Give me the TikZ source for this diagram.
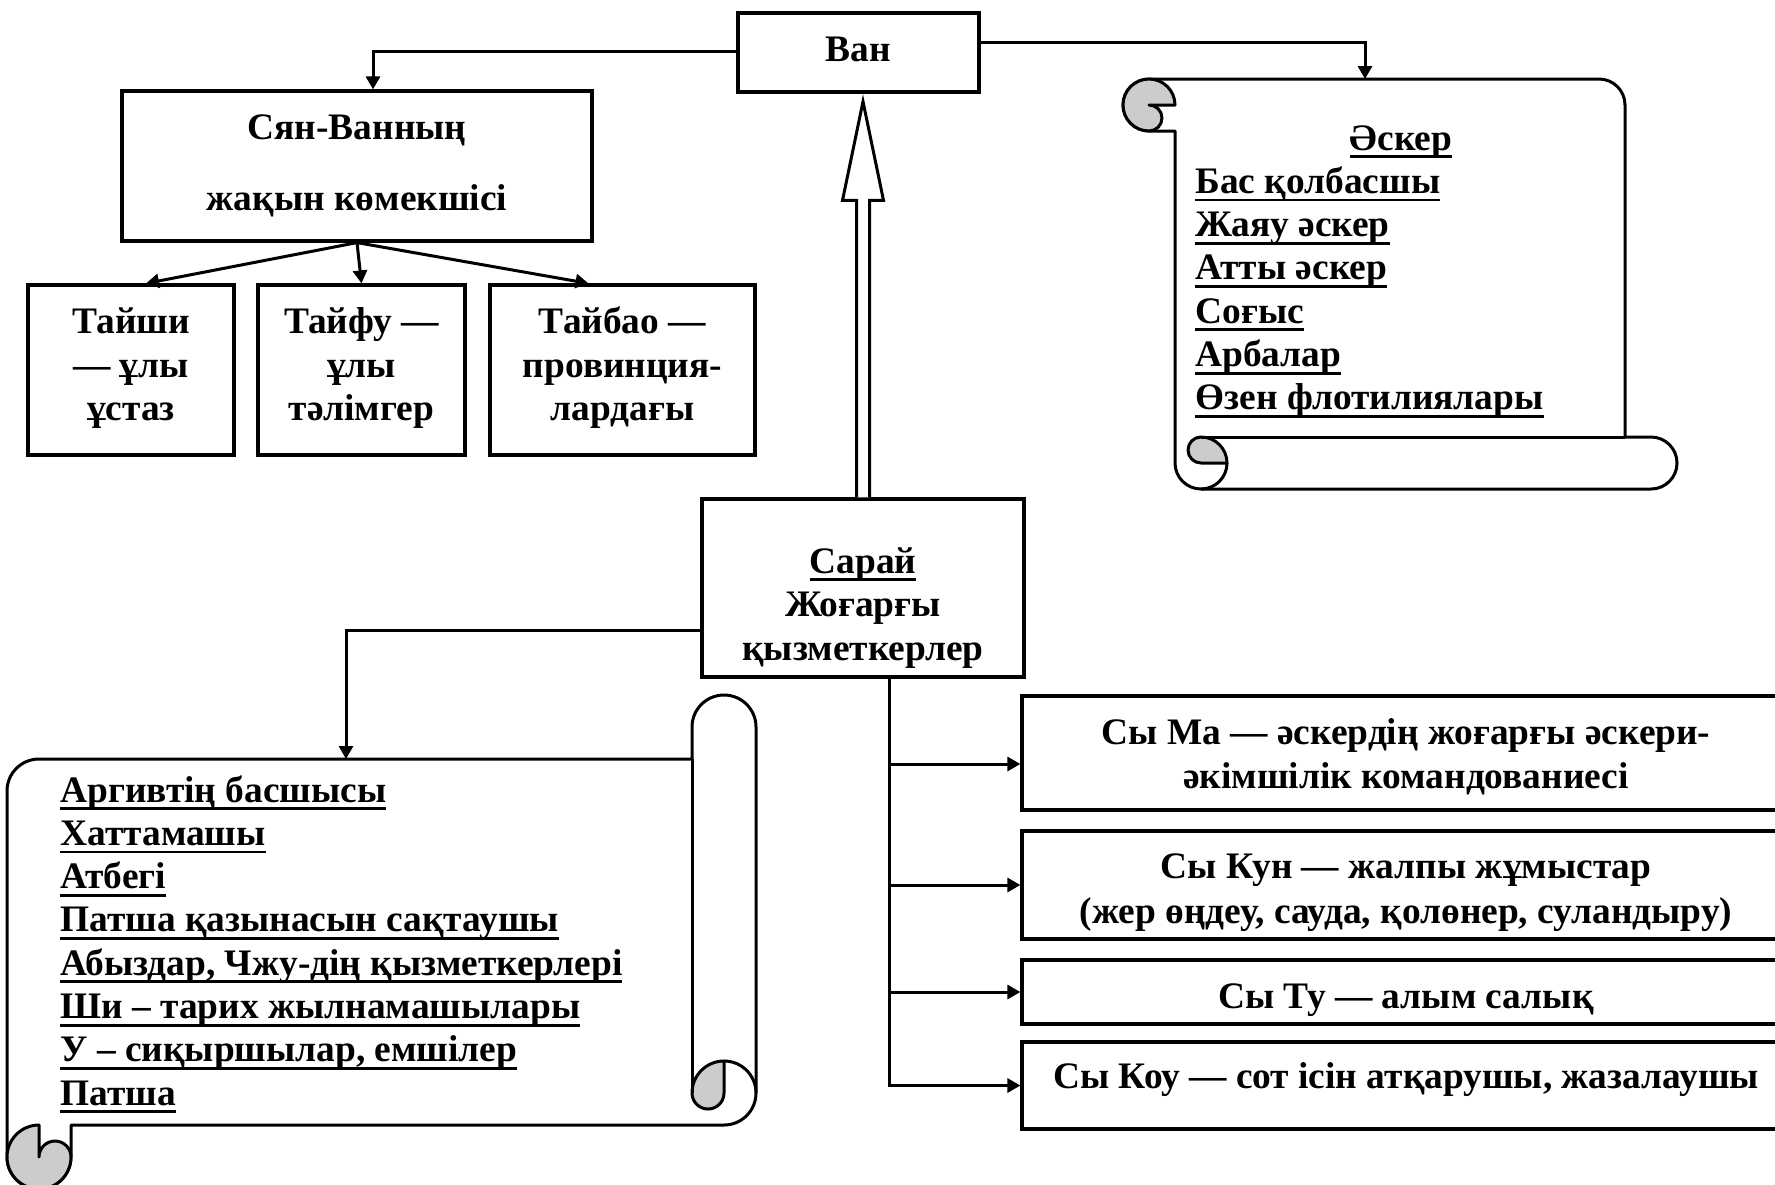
\documentclass[tikz,border=0pt]{standalone}
\usepackage{fontspec}
\setmainfont{Liberation Serif}
\usetikzlibrary{arrows.meta,calc}
\newcommand\uln[1]{\setbox0\hbox{#1}\rlap{\rule[-4pt]{\wd0}{1.4pt}}\box0}
\begin{document}
\begin{tikzpicture}[x=0.5pt,y=0.5pt,
  every node/.style={font=\fontsize{18.7pt}{22pt}\selectfont\bfseries},
  box/.style={draw,line width=1.6pt,inner sep=0pt},
  tx/.style={anchor=base,inner sep=0pt},
  ln/.style={line width=1.5pt},
  arr/.style={ln,-{Triangle[length=6.5pt,width=7pt]}},
  scr/.style={line width=1.5pt,fill=white,line join=round},
  curl/.style={line width=1.5pt,fill=black!20,line join=round},
  item/.style={anchor=base west,inner sep=0pt}]
\useasboundingbox (0,0) rectangle (1775,-1184);

% ---------- army scroll (top right) ----------
\draw[scr] (1149,-79) -- (1599,-79) arc[start angle=90,end angle=0,radius=26]
  -- (1625,-437) -- (1651,-437) arc[start angle=90,end angle=-90,radius=26]
  -- (1201,-489) arc[start angle=270,end angle=180,radius=26]
  -- (1175,-131) -- (1149,-131) arc[start angle=270,end angle=90,radius=26] -- cycle;
\draw[curl] (1175,-105) arc[start angle=0,end angle=270,radius=26]
  arc[start angle=270,end angle=450,radius=13] -- cycle;
\draw[curl] (1201,-463) arc[start angle=270,end angle=90,radius=13]
  arc[start angle=90,end angle=0,radius=26] -- cycle;
\draw[ln] (1227,-463) arc[start angle=0,end angle=-90,radius=26];
\draw[ln] (1201,-437) -- (1625,-437);
\coordinate (armytop) at (1365,-79);

% ---------- court scroll (bottom left) ----------
\draw[scr] (7,-1157) -- (7,-791) arc[start angle=180,end angle=90,radius=32]
  -- (692,-759) -- (692,-727) arc[start angle=180,end angle=0,radius=32]
  -- (756,-1093) arc[start angle=0,end angle=-90,radius=32]
  -- (71,-1125) -- (71,-1157) arc[start angle=0,end angle=-180,radius=32] -- cycle;
\draw[curl] (39,-1125) arc[start angle=90,end angle=360,radius=32]
  arc[start angle=0,end angle=180,radius=16] -- cycle;
\draw[curl] (724,-1093) arc[start angle=0,end angle=-180,radius=16]
  arc[start angle=180,end angle=90,radius=32] -- cycle;
\draw[ln] (724,-1061) arc[start angle=90,end angle=0,radius=32];
\draw[ln] (692,-759) -- (692,-1093);
\coordinate (listtop) at (346,-759);

% ---------- boxes ----------
\node[box,minimum width=120.5pt,minimum height=39.5pt] (van) at (858.5,-52.5) {};
\node[box,minimum width=235pt,minimum height=75pt] (syan) at (357,-166) {};
\node[box,minimum width=103pt,minimum height=85pt] (t1) at (131,-370) {};
\node[box,minimum width=103.5pt,minimum height=85pt] (t2) at (361.5,-370) {};
\node[box,minimum width=132.5pt,minimum height=85pt] (t3) at (622.5,-370) {};
\node[box,minimum width=161pt,minimum height=89pt] (saray) at (863,-588) {};
\node[box,minimum width=384pt,minimum height=57pt] (r1) at (1406,-753) {};
\node[box,minimum width=384pt,minimum height=54pt] (r2) at (1406,-885) {};
\node[box,minimum width=384pt,minimum height=32pt] (r3) at (1406,-992) {};
\node[box,minimum width=384pt,minimum height=43.5pt] (r4) at (1406,-1085.5) {};

% ---------- box texts ----------
\node[tx] (vant) at (858.5,-61) {Ван};
\node[tx] (syant1) at (357,-139.5) {Сян-Ванның};
\node[tx] (syant2) at (357,-210.5) {жақын көмекшісі};
\node[tx] (t1a) at (131,-333) {Тайши};
\node[tx] (t1b) at (131,-377) {— ұлы};
\node[tx] (t1c) at (131,-420) {ұстаз};
\node[tx] (t2a) at (361.5,-333) {Тайфу —};
\node[tx] (t2b) at (361.5,-377) {ұлы};
\node[tx] (t2c) at (361.5,-420) {тәлімгер};
\node[tx] (t3a) at (622.5,-333) {Тайбао —};
\node[tx] (t3b) at (622.5,-377) {провинция-};
\node[tx] (t3c) at (622.5,-420) {лардағы};
\node[tx] (sa1) at (863,-573) {\uln{Сарай}};
\node[tx] (sa2) at (863,-616) {Жоғарғы};
\node[tx] (sa3) at (863,-660) {қызметкерлер};
\node[tx] (r1a) at (1406,-744) {Сы Ма — әскердің жоғарғы әскери-};
\node[tx] (r1b) at (1406,-788) {әкімшілік командованиесі};
\node[tx] (r2a) at (1406,-878.5) {Сы Кун — жалпы жұмыстар};
\node[tx] (r2b) at (1406,-923.5) {(жер өңдеу, сауда, қолөнер, суландыру)};
\node[tx] (r3a) at (1406,-1008.5) {Сы Ту — алым салық};
\node[tx] (r4a) at (1406,-1088) {Сы Коу — сот ісін атқарушы, жазалаушы};

% ---------- scroll texts ----------
\node[tx] (army) at (1401,-150) {\uln{Әскер}};
\foreach \t [count=\i] in {{Бас қолбасшы},{Жаяу әскер},{Атты әскер},{Соғыс},{Арбалар},{Өзен флотилиялары}}
  \node[item] (a\i) at (1195,{-150-43.3*\i}) {\uln{\t}};
\foreach \t [count=\i from 0] in {{Аргивтің басшысы},{Хаттамашы},{Атбегі},{Патша қазынасын сақтаушы},{Абыздар, Чжу-дің қызметкерлері},{Ши – тарих жылнамашылары},{У – сиқыршылар, емшілер},{Патша}}
  \node[item] (c\i) at (60,{-802-43.3*\i}) {\uln{\t}};

% ---------- connectors ----------
\draw[arr] ([yshift=0.75pt]van.west) -| ($(syan.north)+(16,0)$);
\draw[arr] ([yshift=5pt]van.east) -| (armytop);
\draw[arr] (syan.south) -- ($(t1.north)+(15,0)$);
\draw[arr] (syan.south) -- (t2.north);
\draw[arr] (syan.south) -- ($(t3.north)+(-34,0)$);
\draw[arr] ([yshift=-21pt]saray.west) -| (listtop);
\coordinate (tr) at ($(saray.south)+(26,0)$);
\draw[arr] (tr) |- (r4.west);
\draw[arr] (tr |- r2.west) -- (r2.west);
\draw[arr] (tr |- r3.west) -- (r3.west);
\draw[arr] ($(tr |- r1.west)+(0,-11)$) -- ($(r1.west)+(0,-11)$);
\draw[line width=1.5pt,fill=white,line join=miter]
  ($(saray.north)+(-6.5,0)$) -- ($(saray.north)+(-6.5,297)$) -- ($(saray.north)+(-20.5,297)$)
  -- ($(van.south)+(4.5,-8)$) -- ($(saray.north)+(20.5,297)$) -- ($(saray.north)+(6.5,297)$)
  -- ($(saray.north)+(6.5,0)$);
\end{tikzpicture}
\end{document}
